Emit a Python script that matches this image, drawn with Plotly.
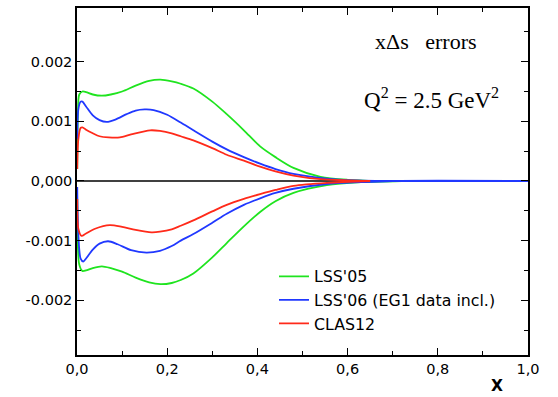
import plotly.graph_objects as go

# ---- data ----
x_green_up = [0.0005, 0.002, 0.005, 0.012, 0.02, 0.035, 0.055, 0.075, 0.1, 0.13, 0.16, 0.185, 0.21, 0.23, 0.258, 0.3, 0.332, 0.37, 0.406, 0.44, 0.48, 0.54, 0.6, 0.67]
y_green_up = [0.0002, 0.0011, 0.00145, 0.0015, 0.00149, 0.00145, 0.00143, 0.00145, 0.0015, 0.0016, 0.00168, 0.0017, 0.00167, 0.00163, 0.00155, 0.00133, 0.00112, 0.00085, 0.00058, 0.0004, 0.00022, 0.00007, 0.00002, 0.0]
x_green_lo = [0.0005, 0.002, 0.005, 0.012, 0.02, 0.035, 0.055, 0.075, 0.1, 0.13, 0.16, 0.185, 0.21, 0.23, 0.258, 0.3, 0.332, 0.37, 0.406, 0.44, 0.48, 0.554, 0.63, 0.72]
y_green_lo = [-0.0003, -0.0011, -0.0014, -0.00151, -0.0015, -0.00146, -0.00143, -0.00146, -0.00152, -0.00162, -0.0017, -0.00173, -0.00171, -0.00166, -0.00155, -0.00128, -0.00104, -0.00076, -0.00052, -0.00034, -0.0002, -0.00007, -0.00002, 0.0]

x_blue_up = [0.0005, 0.003, 0.008, 0.012, 0.02, 0.035, 0.05, 0.066, 0.085, 0.11, 0.13, 0.15, 0.17, 0.2, 0.23, 0.258, 0.3, 0.332, 0.37, 0.406, 0.44, 0.48, 0.554, 0.62, 0.7, 1.0]
y_blue_up = [0.0007, 0.0012, 0.00133, 0.00133, 0.00125, 0.0011, 0.00102, 0.00099, 0.00103, 0.00112, 0.00118, 0.0012, 0.00119, 0.00111, 0.00098, 0.00085, 0.00066, 0.00053, 0.0004, 0.00029, 0.0002, 0.00012, 0.00004, 0.00001, 0.0, 0.0]
x_blue_lo = [0.0005, 0.003, 0.008, 0.014, 0.02, 0.035, 0.05, 0.069, 0.09, 0.12, 0.154, 0.184, 0.21, 0.23, 0.258, 0.3, 0.332, 0.37, 0.406, 0.44, 0.48, 0.554, 0.63, 0.7, 1.0]
y_blue_lo = [-0.0001, -0.0009, -0.0013, -0.00135, -0.0013, -0.00115, -0.00105, -0.00101, -0.00106, -0.00116, -0.0012, -0.00117, -0.00109, -0.001, -0.00089, -0.0007, -0.00055, -0.0004, -0.00029, -0.0002, -0.00013, -0.00005, -0.00002, 0.0, 0.0]

x_red_up = [0.0005, 0.003, 0.008, 0.012, 0.02, 0.035, 0.05, 0.07, 0.095, 0.12, 0.162, 0.184, 0.21, 0.23, 0.258, 0.3, 0.332, 0.37, 0.406, 0.44, 0.48, 0.54, 0.6, 0.65]
y_red_up = [0.0002, 0.0007, 0.00089, 0.0009, 0.00086, 0.0008, 0.00075, 0.00073, 0.00073, 0.00078, 0.00085, 0.00084, 0.0008, 0.00075, 0.00068, 0.00055, 0.00044, 0.00034, 0.00024, 0.00016, 0.00009, 0.00003, 0.00001, 0.0]
x_red_lo = [0.0005, 0.003, 0.01, 0.02, 0.04, 0.073, 0.1, 0.13, 0.165, 0.184, 0.21, 0.23, 0.258, 0.3, 0.332, 0.37, 0.406, 0.44, 0.48, 0.554, 0.65]
y_red_lo = [-0.0003, -0.0008, -0.00092, -0.00088, -0.0008, -0.00074, -0.00077, -0.00082, -0.00086, -0.00085, -0.00081, -0.00075, -0.00066, -0.00051, -0.0004, -0.0003, -0.00022, -0.00015, -0.00008, -0.00003, 0.0]

series_names = ["LSS'05", "LSS'06 (EG1 data incl.)", "CLAS12"]
series_colors = ["#1fe41f", "#2038ff", "#ff2a1a"]

x_tickvals = [0.0, 0.2, 0.4, 0.6, 0.8, 1.0]
x_ticktext = ["0,0", "0,2", "0,4", "0,6", "0,8", "1,0"]
y_tickvals = [0.002, 0.001, 0.0, -0.001, -0.002]
y_ticktext = ["0.002", "0.001", "0,000", "-0.001", "-0.002"]

# ---- figure ----
fig = go.Figure()
data = [
    (x_green_up, y_green_up, x_green_lo, y_green_lo),
    (x_blue_up, y_blue_up, x_blue_lo, y_blue_lo),
    (x_red_up, y_red_up, x_red_lo, y_red_lo),
]
for (xu, yu, xl, yl), name, col in zip(data, series_names, series_colors):
    fig.add_trace(go.Scatter(x=xu, y=yu, mode="lines", name=name, legendgroup=name,
                             line=dict(color=col, width=1.8, shape="spline", smoothing=0.8)))
    fig.add_trace(go.Scatter(x=xl, y=yl, mode="lines", name=name, legendgroup=name, showlegend=False,
                             line=dict(color=col, width=1.8, shape="spline", smoothing=0.8)))

fig.add_shape(type="line", xref="x", yref="y", x0=0, x1=1, y0=0, y1=0,
              line=dict(color="black", width=1.5), layer="below")

tickfont = dict(family="DejaVu Sans", size=14.5, color="black")
fig.update_xaxes(range=[0, 1], showline=True, linecolor="black", linewidth=1.5, mirror="allticks",
                 ticks="inside", ticklen=7, tickwidth=1.2, tickcolor="black",
                 tickvals=x_tickvals, ticktext=x_ticktext, tickfont=tickfont,
                 minor=dict(ticks="inside", ticklen=4, dtick=0.1, tickcolor="black", tickwidth=1.2),
                 showgrid=False, zeroline=False)
fig.update_yaxes(range=[-0.002917, 0.0029], showline=True, linecolor="black", linewidth=1.5, mirror="allticks",
                 ticks="inside", ticklen=7, tickwidth=1.2, tickcolor="black",
                 tickvals=y_tickvals, ticktext=y_ticktext, tickfont=tickfont,
                 minor=dict(ticks="inside", ticklen=4, dtick=0.0005, tickcolor="black", tickwidth=1.2),
                 showgrid=False, zeroline=False)

fig.add_annotation(xref="paper", yref="paper", x=(426 - 77) / 451, y=(355 - 40) / 349,
                   text="xΔs   errors", showarrow=False, xanchor="center", yanchor="middle",
                   font=dict(family="Liberation Serif", size=22, color="black"))
fig.add_annotation(xref="paper", yref="paper", x=(431 - 77) / 451, y=(355 - 97) / 349,
                   text="Q<sup>2</sup> = 2.5 GeV<sup>2</sup>", showarrow=False, xanchor="center", yanchor="middle",
                   font=dict(family="Liberation Serif", size=23, color="black"))
fig.add_annotation(xref="paper", yref="paper", x=(497 - 77) / 451, y=(355 - 386) / 349,
                   text="<b>X</b>", showarrow=False, xanchor="center", yanchor="middle",
                   font=dict(family="DejaVu Sans", size=15.5, color="black"))

fig.update_layout(
    width=558, height=397,
    margin=dict(l=77, r=30, t=6, b=42),
    paper_bgcolor="white", plot_bgcolor="white",
    showlegend=True,
    legend=dict(x=(274 - 77) / 451, y=(355 - 259) / 349, xanchor="left", yanchor="top",
                bgcolor="rgba(0,0,0,0)", font=dict(family="DejaVu Sans", size=15.8, color="black"),
                itemwidth=30, tracegroupgap=0),
)

fig.write_html("out.html")
